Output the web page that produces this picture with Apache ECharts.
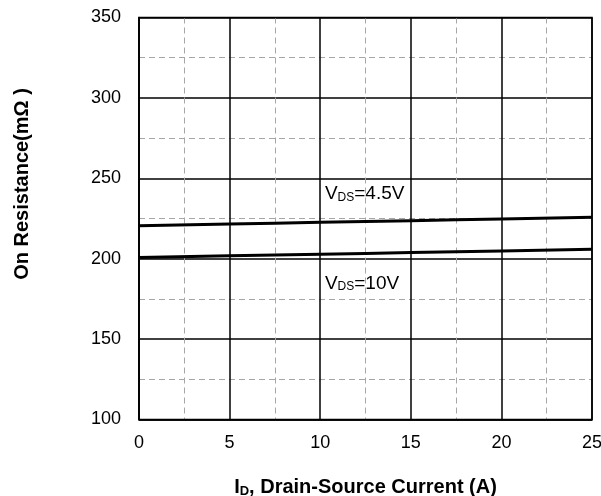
<!DOCTYPE html>
<html>
<head>
<meta charset="utf-8">
<script src="https://cdn.jsdelivr.net/npm/echarts@6/dist/echarts.min.js"></script>
<style>html,body{margin:0;padding:0;background:#fff}#c{width:601px;height:496px}</style>
</head>
<body>
<div id="c"></div>
<script>
// Data
var xValues = [0, 5, 10, 15, 20, 25];
var vds45 = [220.5, 221.6, 222.6, 223.6, 224.7, 225.7];
var vds10 = [200.8, 201.8, 202.8, 203.8, 204.8, 205.8];
var xTicks = [0, 5, 10, 15, 20, 25];
var yTicks = [100, 150, 200, 250, 300, 350];
var label45 = {x: 10.26, y: 241.2, text: ['V', 'DS', '=4.5V']};
var label10 = {x: 10.26, y: 185.5, text: ['V', 'DS', '=10V']};
var xTitle = ['I', 'D', ', Drain-Source Current (A)'];
var yTitle = 'On Resistance(mΩ )';

var FONT = '"Liberation Sans", Arial, sans-serif';
var chart = echarts.init(document.getElementById('c'), null, {renderer: 'canvas'});

function pairs(xs, ys) { return xs.map(function (x, i) { return [x, ys[i]]; }); }
var rich = {
  a: {fontFamily: FONT, fontSize: 19, lineHeight: 22, color: '#000', verticalAlign: 'bottom'},
  b: {fontFamily: FONT, fontSize: 12, lineHeight: 10, color: '#000', verticalAlign: 'bottom'}
};
function mp(l) {
  return {
    symbol: 'circle', symbolSize: 0, silent: true,
    data: [{coord: [l.x, l.y]}],
    label: {show: true, position: 'right', distance: 0,
      formatter: '{a|' + l.text[0] + '}{b|' + l.text[1] + '}{a|' + l.text[2] + '}', rich: rich}
  };
}
var majorLine = {color: '#000', width: 1.5, type: 'solid'};
var minorLine = {color: '#a6a6a6', width: 1, type: [6, 4]};

chart.setOption({
  animation: false,
  backgroundColor: '#fff',
  grid: {left: 139, right: 9, top: 17.5, bottom: 76.5, containLabel: false, outerBoundsMode: 'none',
    show: true, borderColor: '#000', borderWidth: 1.5, z: 3},
  xAxis: {
    type: 'value', min: xTicks[0], max: xTicks[xTicks.length - 1], interval: 5,
    axisLine: {show: true, lineStyle: majorLine},
    axisTick: {show: false},
    minorTick: {show: false, splitNumber: 2},
    splitLine: {show: true, lineStyle: majorLine},
    minorSplitLine: {show: true, lineStyle: minorLine},
    axisLabel: {fontFamily: FONT, fontSize: 18, color: '#000', margin: 15},
    name: '{a|' + xTitle[0] + '}{b|' + xTitle[1] + '}{a|' + xTitle[2] + '}',
    nameLocation: 'middle', nameGap: 55,
    nameTextStyle: {rich: {
      a: {fontFamily: FONT, fontWeight: 'bold', fontSize: 20, lineHeight: 23, color: '#000', verticalAlign: 'bottom'},
      b: {fontFamily: FONT, fontWeight: 'bold', fontSize: 13, lineHeight: 10, color: '#000', verticalAlign: 'bottom'}
    }}
  },
  yAxis: {
    type: 'value', min: yTicks[0], max: yTicks[yTicks.length - 1], interval: 50,
    axisLine: {show: true, lineStyle: majorLine},
    axisTick: {show: false},
    minorTick: {show: false, splitNumber: 2},
    splitLine: {show: true, lineStyle: majorLine},
    minorSplitLine: {show: true, lineStyle: minorLine},
    axisLabel: {fontFamily: FONT, fontSize: 18, color: '#000', margin: 18}
  },
  graphic: [{
    type: 'text', x: 22, y: 184, rotation: Math.PI / 2,
    style: {text: yTitle, fontFamily: FONT, fontWeight: 'bold', fontSize: 20, fill: '#000', align: 'center', verticalAlign: 'middle'}
  }],
  series: [
    {type: 'line', data: pairs(xValues, vds45), symbol: 'none', smooth: true,
      lineStyle: {color: '#000', width: 3}, z: 5, markPoint: mp(label45)},
    {type: 'line', data: pairs(xValues, vds10), symbol: 'none', smooth: true,
      lineStyle: {color: '#000', width: 3}, z: 5, markPoint: mp(label10)}
  ]
});
</script>
</body>
</html>
